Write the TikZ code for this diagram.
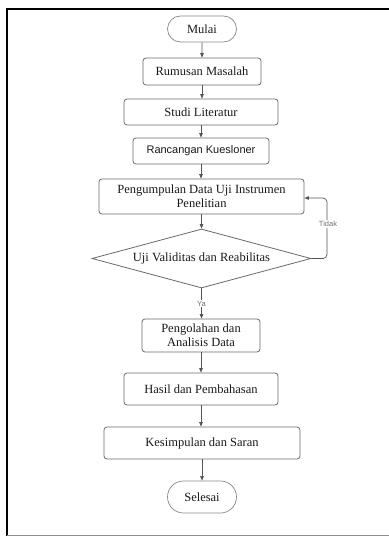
\documentclass[tikz,border=0pt]{standalone}
\usepackage{fontspec}
\setmainfont{Liberation Serif}
\newfontfamily\arialf{Liberation Sans}
\usetikzlibrary{shapes.geometric,shapes.misc,arrows.meta}
\definecolor{edgegray}{HTML}{6A6A6A}
\definecolor{linegray}{HTML}{555555}
\begin{document}
\begin{tikzpicture}[x=1pt,y=-1pt,
  proc/.style={draw=edgegray,line width=0.8pt,rounded corners=3pt,inner sep=0pt,align=center,font=\fontsize{12.5}{14}\selectfont,text=black!90},
  term/.style={draw=edgegray!80,line width=0.7pt,rounded rectangle,inner sep=0pt,font=\fontsize{12.5}{14}\selectfont,text=black!90},
  dec/.style={draw=edgegray,line width=0.8pt,diamond,aspect=3.7,inner sep=0pt,font=\fontsize{12.5}{14}\selectfont,text=black!90},
  flow/.style={draw=linegray,line width=0.7pt,-{Triangle[length=4.5pt,width=3.5pt]}},
  lbl/.style={font=\arialf\fontsize{7.5}{9}\selectfont,text=black!55}
]
\useasboundingbox (0,0) rectangle (388,537);
\fill[white] (0,0) rectangle (388,537);
% frame
\draw[black,line width=2pt] (400,9) -- (7,9) -- (7,536);
\draw[black!45,line width=1.5pt] (7,535.5) -- (400,535.5);

\node[term,minimum width=69pt,minimum height=26pt] (mulai) at (202,29) {Mulai};
\node[proc,minimum width=118pt,minimum height=27pt] (rumusan) at (202,71.5) {Rumusan Masalah};
\node[proc,minimum width=154pt,minimum height=26pt] (studi) at (201,112) {Studi Literatur};
\node[proc,minimum width=136pt,minimum height=26pt,font=\arialf\fontsize{11}{13}\selectfont] (rancangan) at (201,151) {Rancangan Kuesloner};
\node[proc,minimum width=205pt,minimum height=35pt] (kumpul) at (201.5,196.5) {Pengumpulan Data Uji Instrumen\\Penelitian};
\node[dec,minimum width=219pt,minimum height=59pt] (uji) at (201.5,258.5) {Uji Validitas dan Reabilitas};
\node[proc,minimum width=118pt,minimum height=33pt] (olah) at (201,335.5) {Pengolahan dan\\Analisis Data};
\node[proc,minimum width=154pt,minimum height=32pt] (hasil) at (201,389) {Hasil dan Pembahasan};
\node[proc,minimum width=196pt,minimum height=32pt] (simpul) at (202,443) {Kesimpulan dan Saran};
\node[term,minimum width=69pt,minimum height=32pt] (selesai) at (202,497) {Selesai};

\draw[flow] (mulai) -- (mulai |- rumusan.north);
\draw[flow] (rumusan) -- (rumusan |- studi.north);
\draw[flow] (studi) -- (studi |- rancangan.north);
\draw[flow] (rancangan) -- (rancangan |- kumpul.north);
\draw[flow] (kumpul) -- (kumpul |- uji.north);
\draw[flow] (uji) -- node[lbl,fill=white,inner sep=1pt,pos=0.5] (ya) {Ya} (uji |- olah.north);
\draw[flow] (olah) -- (olah |- hasil.north);
\draw[flow] (hasil) -- (hasil |- simpul.north);
\draw[flow] (simpul) -- (simpul |- selesai.north);
\coordinate (loopr) at (327,258.5);
\draw[flow,rounded corners=4pt] (uji.east) -- (loopr) -- (327,198) -- (kumpul.east |- 0,198);
\node[lbl,fill=white,inner sep=1pt] (tidak) at (328,224) {Tidak};
\end{tikzpicture}
\end{document}
